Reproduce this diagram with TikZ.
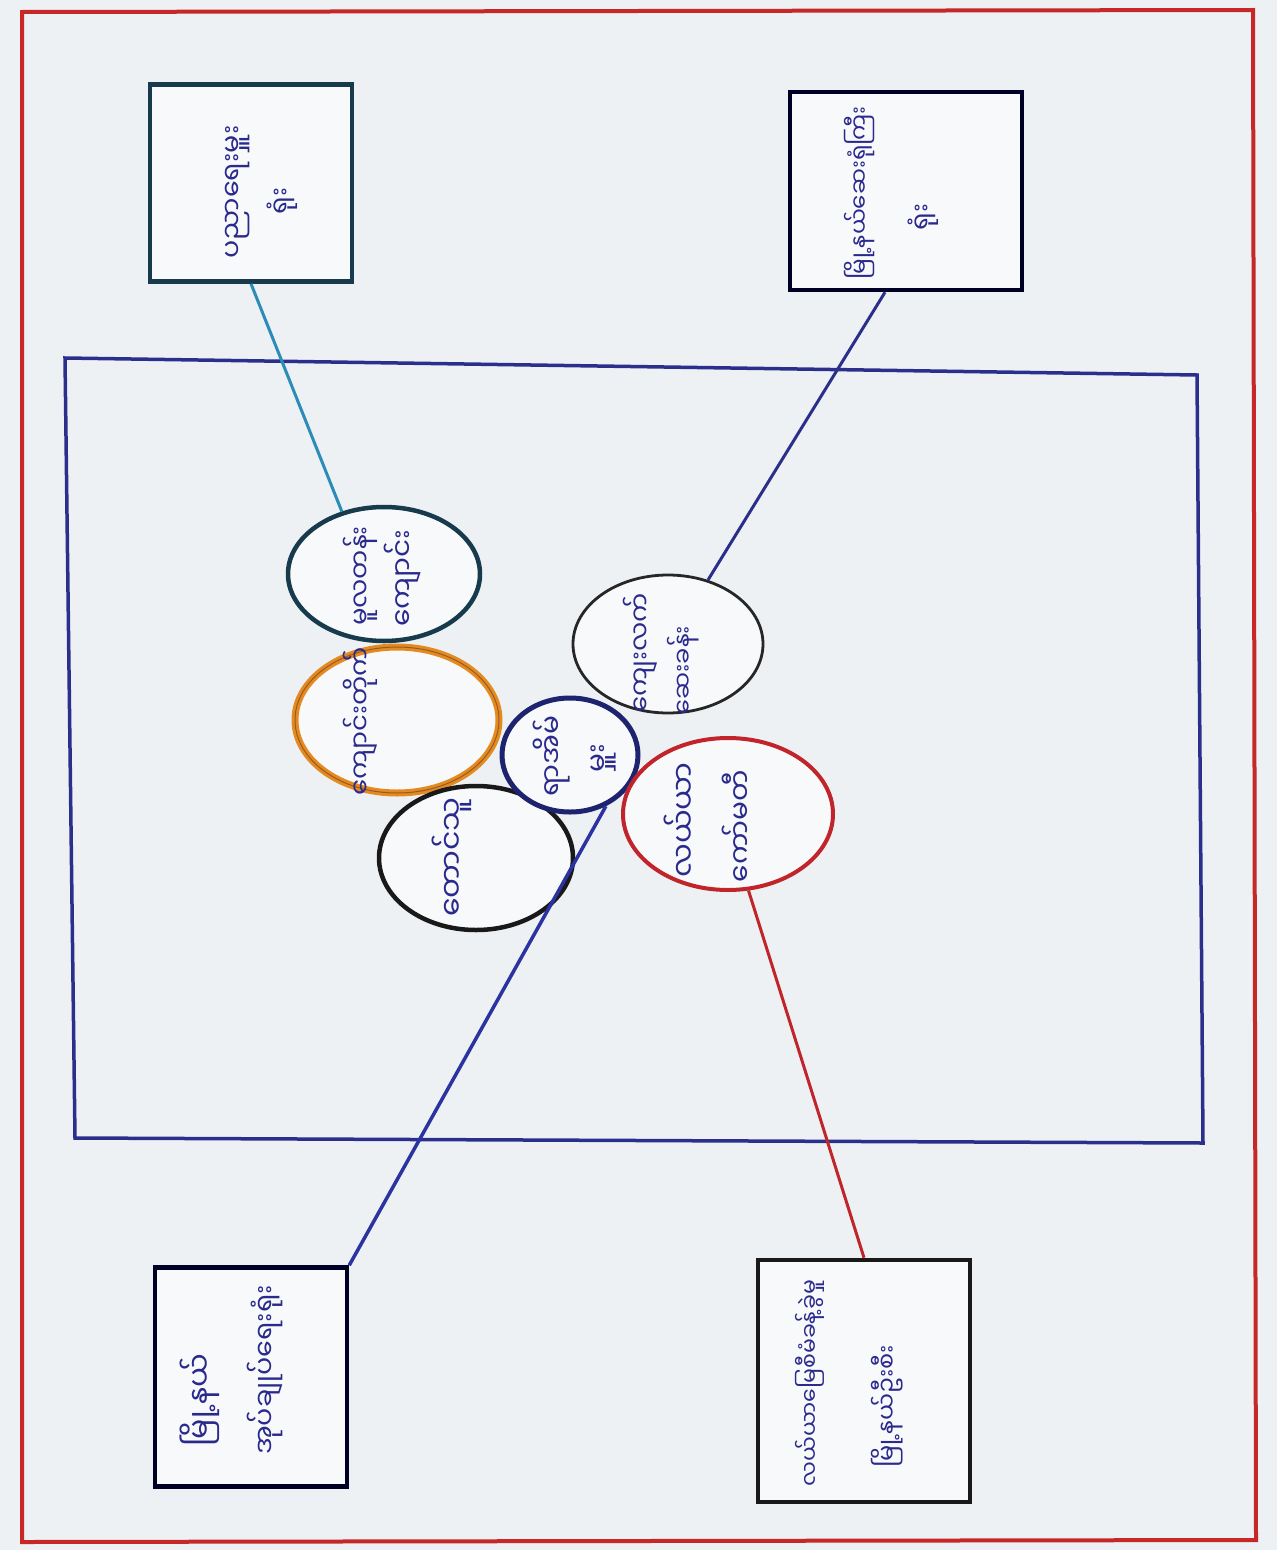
\documentclass[tikz,border=0pt]{standalone}
\usepackage{fontspec}
\newfontfamily\mya[Script=Myanmar]{Noto Sans Myanmar UI}
\usetikzlibrary{shapes.geometric,calc}
\definecolor{bgcol}{HTML}{EEF1F4}
\definecolor{framecol}{HTML}{C62828}
\definecolor{rectcol}{HTML}{2B2F8C}
\definecolor{ink}{HTML}{2A2A8C}
\definecolor{tealcol}{HTML}{173A4D}
\definecolor{orangecol}{HTML}{E38B22}
\definecolor{browncol}{HTML}{9A5A1E}
\definecolor{navycol}{HTML}{1E2370}
\definecolor{redcol}{HTML}{C0252B}
\definecolor{cyanline}{HTML}{2B8CB8}
\definecolor{blueline}{HTML}{2A33A0}
\tikzset{
  office/.style={draw, rectangle, line width=4.5pt, fill=white!60!bgcol, inner sep=0pt},
  group/.style={draw, ellipse, inner sep=0pt, fill=white!60!bgcol},
  lbl/.style={rotate=90, text=ink, inner sep=0pt, font=\mya\fontsize{#1}{#1}\selectfont},
  lbl/.default=28,
  link/.style={line width=3pt},
}
\begin{document}
\begin{tikzpicture}[x=1pt,y=-1pt]
\useasboundingbox (0,0) rectangle (1277,1550);
\fill[bgcol] (0,0) rectangle (1277,1550);
\draw[framecol, line width=4pt] (22,12) -- (1253,10) -- (1256,1540) -- (22,1542) -- cycle;
% big blue frame
\draw[rectcol, line width=3.5pt] (65,358) -- (1197,375) -- (1203,1143) -- (75,1138) -- cycle;

% offices
\node[office, draw=tealcol, minimum width=202pt, minimum height=197pt] (tl) at (251,183) {};
\node[office, draw=black!85!blue, minimum width=232pt, minimum height=198pt] (tr) at (906,191) {};
\node[office, draw=black!85!blue, minimum width=192pt, minimum height=219pt] (bl) at (251,1377) {};
\node[office, draw=black!90, minimum width=212pt, minimum height=242pt] (br) at (864,1381) {};

% groups
\node[group, draw=tealcol, line width=4.5pt, minimum width=192pt, minimum height=134pt] (c1) at (384,574) {};
\node[group, draw=orangecol, line width=3pt, double=browncol, double distance=1pt, minimum width=204pt, minimum height=146pt] (c2) at (397,720) {};
\node[group, draw=black!90, line width=4.5pt, minimum width=194pt, minimum height=144pt] (c3) at (476,858) {};
\node[group, draw=navycol, line width=5pt, minimum width=136pt, minimum height=114pt] (c4) at (570,755) {};
\node[group, draw=black!85, line width=2.8pt, minimum width=190pt, minimum height=138pt] (c5) at (668,644) {};
\node[group, draw=redcol, line width=4pt, minimum width=210pt, minimum height=152pt] (c6) at (728,814) {};

% links
\draw[link, cyanline] (tl.south) -- (c1.124);
\draw[link, rectcol] ($(tr.south)+(-21,0)$) -- (c5.58);
\draw[link, blueline, line width=3.5pt] (bl.north east) -- (c4.-55);
\draw[link, redcol] (br.north) -- (c6.-75);

% labels: offices
\node[lbl=27] (t1a) at (238,192) {ပညာရေးမှူး};
\node[lbl=26] (t1b) at (282,201) {ရုံး};
\node[lbl=23] (t2a) at (860,193) {မြို့နယ်ဆေးရုံကြီး};
\node[lbl=26] (t2b) at (923,217) {ရုံး};
\node[lbl=30] (t3a) at (200,1400) {မြို့နယ်};
\node[lbl=27] (t3b) at (265,1370) {အုပ်ချုပ်ရေးရုံး};
\node[lbl=22] (t4a) at (810,1383) {လယ်ယာမြေစီမံခန့်ခွဲမှု};
\node[lbl=24] (t4b) at (887,1406) {မြို့နယ်ဦးစီး};
% labels: groups
\node[lbl=26] (g1a) at (360,576) {မူလတန်း};
\node[lbl=28] (g1b) at (403,578) {ကျောင်း};
\node[lbl=26] (g2) at (360,721) {ကျောင်းတိုက်};
\node[lbl=30] (g3) at (452,857) {တောင်သူ};
\node[lbl=28] (g4a) at (552,756) {ရာအိမ်};
\node[lbl=28] (g4b) at (603,758) {မှူး};
\node[lbl=26] (g5a) at (640,653) {ကျေးလက်};
\node[lbl=24] (g5b) at (683,670) {ဆေးခန်း};
\node[lbl=30] (g6a) at (680,820) {လယ်ယာ};
\node[lbl=28] (g6b) at (737,826) {ကော်မတီ};
\end{tikzpicture}
\end{document}
